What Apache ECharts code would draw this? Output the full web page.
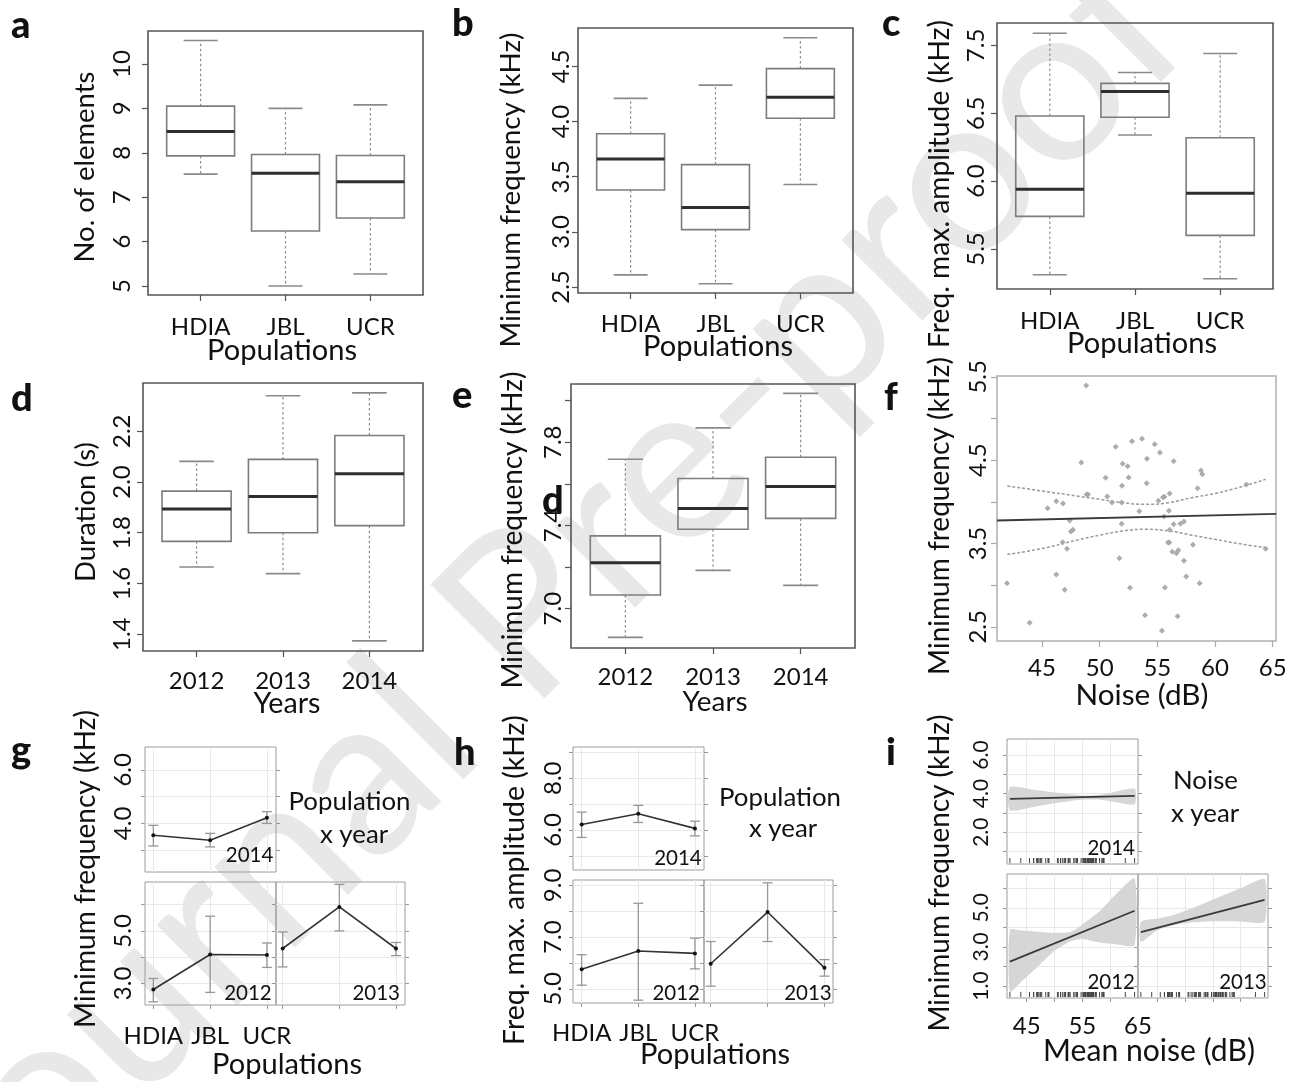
<!DOCTYPE html>
<html><head><meta charset="utf-8">
<script src="https://cdn.jsdelivr.net/npm/echarts@6/dist/echarts.min.js"></script>
<style>html,body{margin:0;padding:0;background:#fff}#c{width:1308px;height:1082px}</style>
</head><body><div id="c"></div><script>
// ---------------- DATA ----------------
const populations = ['HDIA', 'JBL', 'UCR'];
const years = ['2012', '2013', '2014'];
const catPos = [1, 2, 3];
// box stats: [min, Q1, median, Q3, max]
const elementsBox = [[7.52, 7.93, 8.48, 9.05, 10.53], [5.00, 6.24, 7.54, 7.96, 9.00], [5.27, 6.53, 7.35, 7.94, 9.08]];
const minFreqPopBox = [[2.61, 3.38, 3.66, 3.89, 4.21], [2.53, 3.02, 3.22, 3.61, 4.33], [3.43, 4.03, 4.22, 4.48, 4.76]];
const freqMaxAmpBox = [[5.31, 5.74, 5.94, 6.48, 7.09], [6.34, 6.47, 6.66, 6.72, 6.80], [5.28, 5.60, 5.91, 6.32, 6.94]];
const durationBox = [[1.665, 1.766, 1.894, 1.964, 2.081], [1.639, 1.800, 1.943, 2.089, 2.340], [1.374, 1.828, 2.032, 2.183, 2.351]];
const minFreqYearBox = [[6.862, 7.066, 7.221, 7.350, 7.718], [7.184, 7.382, 7.482, 7.626, 7.869], [7.112, 7.434, 7.587, 7.728, 8.035]];

// tick values and labels
const ticksA = [5, 6, 7, 8, 9, 10];            const labelsA = ['5', '6', '7', '8', '9', '10'];
const ticksB = [2.5, 3.0, 3.5, 4.0, 4.5];       const labelsB = ['2.5', '3.0', '3.5', '4.0', '4.5'];
const ticksC = [5.5, 6.0, 6.5, 7.0];            const labelsC = ['5.5', '6.0', '6.5', '7.5'];
const ticksD = [1.4, 1.6, 1.8, 2.0, 2.2];       const labelsD = ['1.4', '1.6', '1.8', '2.0', '2.2'];
const ticksE = [7.0, 7.2, 7.4, 7.6, 7.8, 8.0];  const labelValsE = [7.0, 7.4, 7.8]; const labelsE = ['7.0', '7.4', '7.8'];
const ticksFy = [2.5, 3.0, 3.5, 4.0, 4.5, 5.0, 5.5]; const labelValsFy = [2.5, 3.5, 4.5, 5.5]; const labelsFy = ['2.5', '3.5', '4.5', '5.5'];
const ticksFx = [45, 50, 55, 60, 65];           const labelsFx = ['45', '50', '55', '60', '65'];
const ticksG = [3, 4, 5, 6];
const ticksH = [5, 6, 7, 8, 9];
const ticksIy = [1, 2, 3, 4, 5, 6];
const ticksIx = [45, 50, 55, 60];
const labelValsIx = [45, 55, 65]; const labelsIx = ['45', '55', '65'];

// panel f: noise (dB) vs minimum frequency (kHz)
const noise = [48.84, 48.41, 51.39, 52.80, 53.67, 54.77, 55.23, 54.10, 51.99, 52.43, 56.42, 50.52, 52.51, 58.79, 58.90, 51.94,
  54.08, 58.49, 62.72, 48.87, 48.99, 50.66, 56.07, 55.49, 55.61, 46.24, 46.82, 51.07, 51.91, 55.09, 45.49, 53.44,
  56.01, 55.58, 47.40, 51.91, 56.42, 57.00, 57.31, 47.69, 47.51, 56.07, 46.79, 55.93, 56.04, 58.09, 47.17, 56.30,
  56.65, 56.82, 64.39, 51.71, 57.31, 46.24, 57.51, 41.97, 58.67, 46.97, 52.63, 55.66, 53.93, 56.76, 43.93, 55.40];
const minFreq = [5.396, 4.472, 4.66, 4.728, 4.756, 4.692, 4.592, 4.516, 4.456, 4.428, 4.488, 4.288, 4.292, 4.376, 4.332, 4.192,
  4.224, 4.164, 4.208, 4.088, 4.088, 4.064, 4.10, 4.056, 4.06, 4.008, 3.98, 3.992, 3.992, 4.012, 3.924, 3.888,
  3.892, 3.824, 3.776, 3.736, 3.732, 3.736, 3.764, 3.664, 3.644, 3.664, 3.516, 3.512, 3.512, 3.484, 3.436, 3.40,
  3.384, 3.42, 3.436, 3.324, 3.292, 3.128, 3.104, 3.024, 3.024, 2.944, 2.968, 2.972, 2.64, 2.628, 2.548, 2.452];
const fitNoise = [41.1, 65.3];
const fitFreq = [3.776, 3.856];
const ciNoise = [42, 45, 48, 50, 52, 54, 56, 58, 60, 62, 64.4];
const ciUpper = [4.19, 4.13, 4.07, 4.03, 3.99, 3.97, 3.99, 4.05, 4.10, 4.17, 4.27];
const ciLower = [3.37, 3.44, 3.54, 3.60, 3.65, 3.67, 3.65, 3.60, 3.55, 3.50, 3.45];

// panel g: minimum frequency by population x year (mean, lower, upper)
const gMean2014 = [3.56, 3.375, 4.21]; const gLo2014 = [3.16, 3.125, 4.00]; const gHi2014 = [3.93, 3.63, 4.44];
const gMean2012 = [2.77, 4.10, 4.08];  const gLo2012 = [2.30, 2.66, 3.61];  const gHi2012 = [3.19, 5.56, 4.54];
const gMean2013 = [4.33, 5.91, 4.33];  const gLo2013 = [3.63, 5.00, 4.06];  const gHi2013 = [4.96, 6.77, 4.56];
// panel h: freq. max. amplitude by population x year
const hMean2014 = [6.21, 6.63, 6.06]; const hLo2014 = [5.71, 6.29, 5.77]; const hHi2014 = [6.69, 6.95, 6.34];
const hMean2012 = [5.76, 6.46, 6.37]; const hLo2012 = [5.14, 4.56, 5.77]; const hHi2012 = [6.32, 8.31, 6.96];
const hMean2013 = [5.97, 7.97, 5.81]; const hLo2013 = [5.10, 6.83, 5.49]; const hHi2013 = [6.83, 9.10, 6.13];
// panel i: noise x year fits with confidence bands
const iNoise2014 = [41.97, 46.8, 52.8, 55.9, 58.9, 64.39];
const iLo2014 = [3.14, 3.35, 3.62, 3.69, 3.66, 3.45];
const iHi2014 = [4.34, 4.17, 3.97, 3.90, 3.97, 4.26];
const iFitX2014 = [41.97, 64.39]; const iFitY2014 = [3.73, 3.88];
const iNoise2012 = [41.97, 44, 47, 50, 53, 55, 58, 61, 64.39];
const iLo2012 = [0.70, 1.22, 2.00, 2.80, 3.30, 3.40, 3.22, 3.14, 3.09];
const iHi2012 = [3.88, 3.84, 3.78, 3.72, 3.78, 4.15, 4.80, 5.68, 6.51];
const iFitX2012 = [41.97, 64.39]; const iFitY2012 = [2.25, 4.85];
const iNoise2013 = [41.97, 45, 48, 51, 54, 57, 60, 64.39];
const iLo2013 = [3.26, 3.86, 4.12, 4.25, 4.30, 4.31, 4.30, 4.29];
const iHi2013 = [4.29, 4.45, 4.65, 4.95, 5.30, 5.65, 6.00, 6.47];
const iFitX2013 = [41.97, 64.39]; const iFitY2013 = [3.76, 5.40];

// ---------------- HELPERS ----------------
const FONT = 'Lato, "Noto Sans", sans-serif';
const cv = document.createElement('canvas').getContext('2d');
function fit(text, width, weight) { cv.font = (weight || 'normal') + ' 100px Lato'; return 100 * width / cv.measureText(text).width; }
function lab(vals, labels, v) { for (let i = 0; i < vals.length; i++) if (Math.abs(vals[i] - v) < 1e-6) return labels[i]; return ''; }
const labelStyle = { fontFamily: FONT, fontSize: 24, color: '#111' };

function grid(l, t, w, h, color, bw) {
  return { left: l, top: t, width: w, height: h, show: true, borderColor: color, borderWidth: bw,
    backgroundColor: 'transparent', containLabel: false, outerBoundsMode: 'none' };
}
function rX(gi, min, max, ticks, labels, margin, tc) {
  return { type: 'value', gridIndex: gi, min, max, axisLine: { show: false }, splitLine: { show: false },
    axisTick: { show: true, customValues: ticks, length: 6, lineStyle: { color: tc || '#555', width: 1.2 } },
    axisLabel: Object.assign({ customValues: ticks, margin, formatter: v => lab(ticks, labels, v) }, labelStyle) };
}
function rY(gi, min, max, ticks, lv, labels, margin, tc) {
  return { type: 'value', gridIndex: gi, min, max, axisLine: { show: false }, splitLine: { show: false },
    axisTick: { show: true, customValues: ticks, length: 6, lineStyle: { color: tc || '#555', width: 1.2 } },
    axisLabel: Object.assign({ customValues: lv, rotate: 90, margin, formatter: v => lab(lv, labels, v) }, labelStyle) };
}
function fX(gi, min, max, ticks, lv, labels, showTicks, margin) {
  return { type: 'value', gridIndex: gi, min, max, axisLine: { show: false },
    splitLine: { show: true, lineStyle: { color: '#e8e8e8', width: 1 } },
    axisTick: { show: showTicks, customValues: ticks, length: 4, lineStyle: { color: '#999' } },
    axisLabel: Object.assign({ show: !!lv, customValues: lv || ticks, margin: margin || 8,
      formatter: v => lv ? lab(lv, labels, v) : '' }, labelStyle) };
}
function fY(gi, min, max, ticks, lv, labels, margin, pos, fs) {
  const right = pos === 'right';
  return { type: 'value', gridIndex: gi, min, max, position: pos || 'left', axisLine: { show: false },
    splitLine: { show: !right, lineStyle: { color: '#e8e8e8', width: 1 } },
    axisTick: { show: true, customValues: ticks, length: 4, lineStyle: { color: '#999' } },
    axisLabel: Object.assign({}, labelStyle, { show: !!lv, customValues: lv || ticks, rotate: 90, margin: margin || 8,
      fontSize: fs || 24, formatter: v => lv ? lab(lv, labels, v) : '' }) };
}
function boxSeries(ax, stats) {
  return { type: 'custom', xAxisIndex: ax, yAxisIndex: ax, silent: true, z: 3,
    data: stats.map((d, i) => [catPos[i]].concat(d)),
    renderItem(p, api) {
      const x = api.value(0);
      const lo = api.coord([x, api.value(1)]), q1 = api.coord([x, api.value(2)]), md = api.coord([x, api.value(3)]),
        q3 = api.coord([x, api.value(4)]), hi = api.coord([x, api.value(5)]);
      const unit = api.size([1, 0])[0];
      const bw = unit * 0.4, cw = unit * 0.2, cx = lo[0];
      const wh = { stroke: '#8e8e8e', lineWidth: 1.2, lineDash: [2.5, 2.5] };
      const cap = { stroke: '#8a8a8a', lineWidth: 1.6 };
      return { type: 'group', children: [
        { type: 'line', shape: { x1: cx, y1: q3[1], x2: cx, y2: hi[1] }, style: wh },
        { type: 'line', shape: { x1: cx, y1: q1[1], x2: cx, y2: lo[1] }, style: wh },
        { type: 'line', shape: { x1: cx - cw, y1: hi[1], x2: cx + cw, y2: hi[1] }, style: cap },
        { type: 'line', shape: { x1: cx - cw, y1: lo[1], x2: cx + cw, y2: lo[1] }, style: cap },
        { type: 'rect', shape: { x: cx - bw, y: q3[1], width: 2 * bw, height: q1[1] - q3[1] },
          style: { fill: 'rgba(255,255,255,0)', stroke: '#7d7d7d', lineWidth: 1.6 } },
        { type: 'line', shape: { x1: cx - bw, y1: md[1], x2: cx + bw, y2: md[1] }, style: { stroke: '#2e2e2e', lineWidth: 3 } }
      ] };
    } };
}
function errSeries(ax, lo, hi) {
  return { type: 'custom', xAxisIndex: ax, yAxisIndex: ax, silent: true, z: 3,
    data: lo.map((l, i) => [catPos[i], l, hi[i]]),
    renderItem(p, api) {
      const a = api.coord([api.value(0), api.value(1)]), b = api.coord([api.value(0), api.value(2)]);
      const st = { stroke: '#979797', lineWidth: 1.3 };
      return { type: 'group', children: [
        { type: 'line', shape: { x1: a[0], y1: a[1], x2: b[0], y2: b[1] }, style: st },
        { type: 'line', shape: { x1: a[0] - 5, y1: a[1], x2: a[0] + 5, y2: a[1] }, style: st },
        { type: 'line', shape: { x1: b[0] - 5, y1: b[1], x2: b[0] + 5, y2: b[1] }, style: st }
      ] };
    } };
}
function meanSeries(ax, mean) {
  return { type: 'line', xAxisIndex: ax, yAxisIndex: ax, silent: true, z: 4,
    data: mean.map((m, i) => [catPos[i], m]), symbol: 'circle', symbolSize: 4, showSymbol: true,
    lineStyle: { color: '#333', width: 1.6 }, itemStyle: { color: '#111' } };
}
function bandSeries(ax, xs, lo, hi) {
  return { type: 'custom', xAxisIndex: ax, yAxisIndex: ax, silent: true, z: 2,
    data: xs.map((x, i) => [x, lo[i], hi[i]]),
    renderItem(p, api) {
      if (p.dataIndex !== 0) return null;
      const pts = [];
      for (let i = 0; i < xs.length; i++) pts.push(api.coord([xs[i], hi[i]]));
      for (let i = xs.length - 1; i >= 0; i--) pts.push(api.coord([xs[i], lo[i]]));
      return { type: 'polygon', shape: { points: pts, smooth: 0.2 }, style: { fill: '#d6d6d6' } };
    } };
}
function fitLine(ax, xs, ys) {
  return { type: 'line', xAxisIndex: ax, yAxisIndex: ax, silent: true, z: 4, symbol: 'none',
    data: xs.map((x, i) => [x, ys[i]]), lineStyle: { color: '#3a3a3a', width: 1.8 } };
}
function rugSeries(ax, xs, ymin) {
  return { type: 'custom', xAxisIndex: ax, yAxisIndex: ax, silent: true, z: 3,
    data: xs.map(x => [x]),
    renderItem(p, api) {
      const a = api.coord([api.value(0), ymin]);
      return { type: 'line', shape: { x1: a[0], y1: a[1] - 1, x2: a[0], y2: a[1] - 6 }, style: { stroke: '#444', lineWidth: 1 } };
    } };
}
function T(text, x, y, size, o) {
  o = o || {};
  return { type: 'text', x, y, rotation: o.rot || 0, z: o.z === undefined ? 50 : o.z, silent: true,
    style: { text, fontSize: size, fontFamily: FONT, fontWeight: o.weight || 'normal', fill: o.color || '#111',
      align: o.align || 'center', verticalAlign: 'middle' } };
}

// ---------------- LAYOUT ----------------
const grids = [
  grid(148, 31, 275, 264, '#555', 1.6),   // 0 a
  grid(578, 28, 275, 265, '#555', 1.6),   // 1 b
  grid(997, 23, 276, 266, '#555', 1.6),   // 2 c
  grid(143, 383, 280, 268, '#555', 1.6),  // 3 d
  grid(571, 384, 284, 264, '#555', 1.6),  // 4 e
  grid(997, 376, 279, 265, '#b0b0b0', 1.5), // 5 f
  grid(145, 747, 131, 125, '#9c9c9c', 1), // 6 g 2014
  grid(145, 882, 131, 123, '#9c9c9c', 1), // 7 g 2012
  grid(276, 882, 129, 123, '#9c9c9c', 1), // 8 g 2013
  grid(573, 747, 131, 123, '#9c9c9c', 1), // 9 h 2014
  grid(573, 880, 131, 123, '#9c9c9c', 1), // 10 h 2012
  grid(704, 880, 129, 123, '#9c9c9c', 1), // 11 h 2013
  grid(1007, 739, 131, 125, '#9c9c9c', 1), // 12 i 2014
  grid(1007, 874, 131, 124, '#9c9c9c', 1), // 13 i 2012
  grid(1138, 874, 130, 124, '#9c9c9c', 1)  // 14 i 2013
];
const xAxes = [
  rX(0, 0.38, 3.62, catPos, populations, 20),
  rX(1, 0.38, 3.62, catPos, populations, 19),
  rX(2, 0.38, 3.62, catPos, populations, 20),
  rX(3, 0.38, 3.62, catPos, years, 18),
  rX(4, 0.38, 3.62, catPos, years, 17.5),
  rX(5, 41.1, 65.29, ticksFx, labelsFx, 15, '#aaa'),
  fX(6, 0.853, 3.16, catPos, null, null, false),
  fX(7, 0.853, 3.16, catPos, catPos, populations, true, 19),
  fX(8, 0.882, 3.159, catPos, null, null, true),
  fX(9, 0.847, 3.16, catPos, null, null, false),
  fX(10, 0.847, 3.16, catPos, catPos, populations, true, 18),
  fX(11, 0.882, 3.15, catPos, null, null, true),
  fX(12, 41.45, 65, ticksIx, null, null, false),
  fX(13, 41.45, 65, ticksIx, labelValsIx, labelsIx, true, 16),
  fX(14, 41.45, 65, ticksIx, null, null, true)
];
const yAxes = [
  rY(0, 4.797, 10.743, ticksA, ticksA, labelsA, 14),
  rY(1, 2.446, 4.848, ticksB, ticksB, labelsB, 5),
  rY(2, 5.205, 7.165, ticksC, ticksC, labelsC, 9),
  rY(3, 1.334, 2.39, ticksD, ticksD, labelsD, 9),
  rY(4, 6.811, 8.08, ticksE, labelValsE, labelsE, 6),
  rY(5, 2.33, 5.51, ticksFy, labelValsFy, labelsFy, 7, '#aaa'),
  fY(6, 2.19, 6.85, ticksG, [4, 6], ['4.0', '6.0'], 10),
  fY(7, 2.18, 6.86, ticksG, [3, 5], ['3.0', '5.0'], 10),
  fY(8, 2.18, 6.86, ticksG, null, null),
  fY(9, 4.45, 9.21, ticksH, [6, 8], ['6.0', '8.0'], 8),
  fY(10, 4.45, 9.21, ticksH, [5, 7, 9], ['5.0', '7.0', '9.0'], 8),
  fY(11, 4.45, 9.21, ticksH, null, null),
  fY(12, 0.35, 6.83, ticksIy, [2, 4, 6], ['2.0', '4.0', '6.0'], 15, 'left', 21),
  fY(13, 0.385, 6.73, ticksIy, [1, 3, 5], ['1.0', '3.0', '5.0'], 15, 'left', 21),
  fY(14, 0.385, 6.73, ticksIy, null, null),
  fY(6, 2.19, 6.85, ticksG, null, null, 8, 'right'),
  fY(8, 2.18, 6.86, ticksG, null, null, 8, 'right'),
  fY(9, 4.45, 9.21, ticksH, null, null, 8, 'right'),
  fY(11, 4.45, 9.21, ticksH, null, null, 8, 'right'),
  fY(12, 0.35, 6.83, ticksIy, null, null, 8, 'right'),
  fY(14, 0.385, 6.73, ticksIy, null, null, 8, 'right')
];

const series = [
  boxSeries(0, elementsBox), boxSeries(1, minFreqPopBox), boxSeries(2, freqMaxAmpBox),
  boxSeries(3, durationBox), boxSeries(4, minFreqYearBox),
  { type: 'scatter', xAxisIndex: 5, yAxisIndex: 5, silent: true, z: 3, symbol: 'diamond', symbolSize: 6,
    data: noise.map((x, i) => [x, minFreq[i]]), itemStyle: { color: '#a4a4a4', opacity: 0.9 } },
  fitLine(5, fitNoise, fitFreq),
  { type: 'line', xAxisIndex: 5, yAxisIndex: 5, silent: true, symbol: 'none', smooth: true,
    data: ciNoise.map((x, i) => [x, ciUpper[i]]), lineStyle: { color: '#9a9a9a', width: 1.5, type: [3, 2] } },
  { type: 'line', xAxisIndex: 5, yAxisIndex: 5, silent: true, symbol: 'none', smooth: true,
    data: ciNoise.map((x, i) => [x, ciLower[i]]), lineStyle: { color: '#9a9a9a', width: 1.5, type: [3, 2] } },
  errSeries(6, gLo2014, gHi2014), meanSeries(6, gMean2014),
  errSeries(7, gLo2012, gHi2012), meanSeries(7, gMean2012),
  errSeries(8, gLo2013, gHi2013), meanSeries(8, gMean2013),
  errSeries(9, hLo2014, hHi2014), meanSeries(9, hMean2014),
  errSeries(10, hLo2012, hHi2012), meanSeries(10, hMean2012),
  errSeries(11, hLo2013, hHi2013), meanSeries(11, hMean2013),
  bandSeries(12, iNoise2014, iLo2014, iHi2014), fitLine(12, iFitX2014, iFitY2014), rugSeries(12, noise, 0.35),
  bandSeries(13, iNoise2012, iLo2012, iHi2012), fitLine(13, iFitX2012, iFitY2012), rugSeries(13, noise, 0.385),
  bandSeries(14, iNoise2013, iLo2013, iHi2013), fitLine(14, iFitX2013, iFitY2013), rugSeries(14, noise, 0.385)
];

// ---------------- TEXT ----------------
const R90 = Math.PI / 2;
const g = [];
// watermark
g.push(T('Journal Pre-proof', 540, 600, 225, { rot: 45 * Math.PI / 180, color: '#e8e8e8', z: -10 }));
// panel letters [letter, left, baseline]
const LS = 38;
const letters = [['a', 11, 40], ['b', 452, 38], ['c', 882, 38], ['d', 11, 413], ['e', 452, 410], ['f', 884, 412],
  ['g', 11, 765], ['h', 454, 767], ['i', 886, 767], ['d', 542, 515]];
letters.forEach(l => g.push(T(l[0], l[1], l[2] - 0.387 * LS, LS, { weight: 900, align: 'left', z: 60 })));
// y titles [text, x, yCenter, length]
const yTitles = [['No. of elements', 85, 167, 191], ['Minimum frequency (kHz)', 511, 190, 315],
  ['Freq. max. amplitude (kHz)', 940, 184, 328], ['Duration (s)', 86, 512, 140],
  ['Minimum frequency (kHz)', 513, 530, 317], ['Minimum frequency (kHz)', 940, 516, 318],
  ['Minimum frequency (kHz)', 86, 869, 318], ['Freq. max. amplitude (kHz)', 515, 880, 330],
  ['Minimum frequency (kHz)', 940, 873, 317]];
yTitles.forEach(t => g.push(T(t[0], t[1], t[2], fit(t[0], t[3]), { rot: R90 })));
// x titles [text, cx, baseline, width]
const xTitles = [['Populations', 282, 361.5, 150], ['Populations', 718, 358, 150], ['Populations', 1142, 355, 150],
  ['Years', 287, 715, 67], ['Years', 715, 713, 65], ['Noise (dB)', 1142, 706.5, 133],
  ['Populations', 287, 1076, 150], ['Populations', 715, 1066, 150], ['Mean noise (dB)', 1149, 1063, 212]];
xTitles.forEach(t => { const s = fit(t[0], t[3]); g.push(T(t[0], t[1], t[2] - 0.387 * s, s)); });
// facet notes
const sPop = fit('Population', 122);
[['Population', 349.5, 811.7], ['x year', 354, 845], ['Population', 780, 807.3], ['x year', 783, 839]]
  .forEach(t => g.push(T(t[0], t[1], t[2] - 0.387 * sPop, sPop)));
[['Noise', 1205.5, 790.7], ['x year', 1205, 823.3]].forEach(t => g.push(T(t[0], t[1], t[2] - 0.387 * sPop, sPop)));
// facet year strips [text, right, baseline]
const yr = [['2014', 273.3, 863.3], ['2012', 271.7, 1001.7], ['2013', 400, 1001.7],
  ['2014', 701.7, 866.7], ['2012', 700, 1001], ['2013', 831.7, 1001],
  ['2014', 1135, 856.7], ['2012', 1135, 990.7], ['2013', 1266.7, 990.7]];
yr.forEach(t => g.push(T(t[0], t[1], t[2] - 0.387 * 20.5, 20.5, { align: 'right' })));

const chart = echarts.init(document.getElementById('c'), null, { renderer: 'canvas', width: 1308, height: 1082 });
chart.setOption({
  backgroundColor: '#fff', animation: false,
  grid: grids, xAxis: xAxes, yAxis: yAxes, series: series,
  graphic: { elements: g }
});
</script></body></html>
